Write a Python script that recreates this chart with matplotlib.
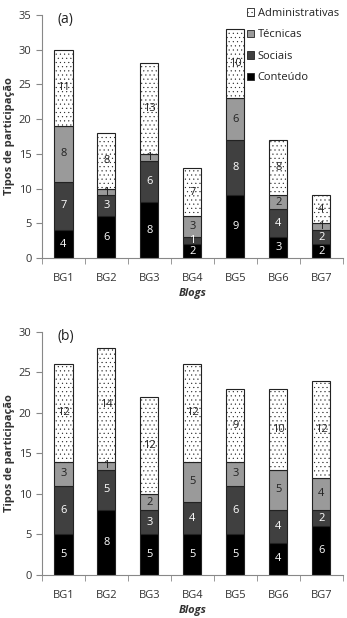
import numpy as np
import matplotlib
matplotlib.use("Agg")
import matplotlib.pyplot as plt
from matplotlib.patches import Patch

blogs = ["BG1", "BG2", "BG3", "BG4", "BG5", "BG6", "BG7"]
categorias = ["Conteúdo", "Sociais", "Técnicas", "Administrativas"]

# painel (a)
conteudo_a = [4, 6, 8, 2, 9, 3, 2]
sociais_a = [7, 3, 6, 1, 8, 4, 2]
tecnicas_a = [8, 1, 1, 3, 6, 2, 1]
admin_a = [11, 8, 13, 7, 10, 8, 4]

# painel (b)
conteudo_b = [5, 8, 5, 5, 5, 4, 6]
sociais_b = [6, 5, 3, 4, 6, 4, 2]
tecnicas_b = [3, 1, 2, 5, 3, 5, 4]
admin_b = [12, 14, 12, 12, 9, 10, 12]

cores = ["#000000", "#404040", "#9a9a9a", "#ffffff"]
cores_texto = ["white", "white", "#222222", "#222222"]
hatches = [None, None, None, "...."]

plt.rcParams["font.family"] = ["Open Sans", "DejaVu Sans"]
plt.rcParams["hatch.linewidth"] = 0.3
plt.rcParams["hatch.color"] = "#a8a8a8"


def desenhar(ax, series, ymax, rotulo):
    x = np.arange(len(blogs))
    base = np.zeros(len(blogs))
    for vals, cor, ct, h, nome in zip(series, cores, cores_texto, hatches, categorias):
        vals = np.array(vals)
        ax.bar(x, vals, 0.42, bottom=base, color=cor, edgecolor="#222222",
               linewidth=0.8, hatch=h, label=nome)
        for xi, b, v in zip(x, base, vals):
            ax.text(xi, b + v / 2, str(v), ha="center", va="center",
                    fontsize=8, color=ct)
        base = base + vals
    ax.set_xlim(-0.5, len(blogs) - 0.5)
    ax.set_ylim(0, ymax)
    ax.set_yticks(np.arange(0, ymax + 1, 5))
    ax.set_xticks(x)
    ax.set_xticklabels(blogs)
    ax.set_xticks(np.arange(-0.5, len(blogs), 1), minor=True)
    ax.tick_params(axis="x", which="major", length=0, labelsize=8, pad=11,
                   colors="#333333")
    ax.tick_params(axis="x", which="minor", length=4, color="#888888")
    ax.tick_params(axis="y", length=4, labelsize=8, color="#888888",
                   labelcolor="#333333")
    for s in ["top", "right"]:
        ax.spines[s].set_visible(False)
    for s in ["left", "bottom"]:
        ax.spines[s].set_color("#888888")
    ax.set_xlabel("Blogs", fontsize=8, fontweight="bold", style="italic",
                  color="#333333", labelpad=3)
    ax.set_ylabel("Tipos de participação", fontsize=8, fontweight="bold",
                  color="#333333", labelpad=3)
    ax.text(0.05, 0.98, rotulo, transform=ax.transAxes, fontsize=10,
            va="center", ha="left", color="#222222")


fig = plt.figure(figsize=(3.47, 6.18), dpi=100)
ax1 = fig.add_axes([0.121, 0.5825, 0.867, 0.3935])
ax2 = fig.add_axes([0.121, 0.0696, 0.867, 0.3932])

desenhar(ax1, [conteudo_a, sociais_a, tecnicas_a, admin_a], 35, "(a)")
desenhar(ax2, [conteudo_b, sociais_b, tecnicas_b, admin_b], 30, "(b)")

handles = [Patch(facecolor=c, edgecolor="#222222", linewidth=0.6, hatch=h)
           for c, h in zip(cores, hatches)]
ax1.legend(handles[::-1], categorias[::-1], loc="upper right",
           bbox_to_anchor=(1.02, 1.07), frameon=False, fontsize=8,
           handlelength=0.7, handleheight=0.7, handletextpad=0.3,
           labelspacing=0.95, labelcolor="#222222")

fig.savefig("out.png", dpi=100)
